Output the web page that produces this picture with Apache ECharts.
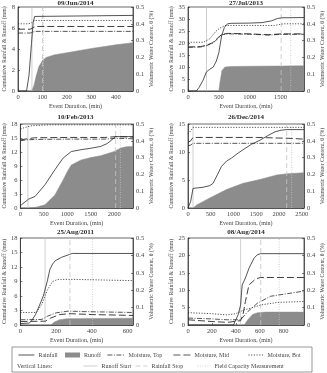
<!DOCTYPE html>
<html>
<head>
<meta charset="utf-8">
<script src="https://cdn.jsdelivr.net/npm/echarts@6/dist/echarts.min.js"></script>
<style>
  html, body { margin: 0; padding: 0; background: #fff; }
  #chart { width: 327px; height: 373px; }
</style>
</head>
<body>
<div id="chart"></div>
<script>
  // panel titles and axis ranges
  const titles = ['09/Jun/2014', '27/Jul/2013', '10/Feb/2013', '26/Dec/2014', '25/Aug/2011', '08/Aug/2014']
  const xMax = [470, 1880, 2400, 2550, 630, 970]
  const xStep = [100, 500, 500, 500, 200, 200]
  const rainMax = [8, 35, 18, 15, 18, 25]
  const rainStep = [2, 5, 3, 5, 3, 5]

  // 09/Jun/2014
  const rain1 = [[0, 0], [35, 0], [45, 1.5], [55, 4.5], [62, 6.5], [68, 7.1], [75, 7.15], [470, 7.2]]
  const runoff1 = [[0, 0], [55, 0], [65, 0.5], [75, 1.5], [85, 2.3], [100, 2.9], [115, 3.2], [150, 3.45], [200, 3.65], [300, 4.05], [400, 4.4], [470, 4.6]]
  const top1 = [[0, 0.345], [50, 0.345], [60, 0.35], [70, 0.355], [470, 0.355]]
  const mid1 = [[0, 0.368], [50, 0.368], [60, 0.375], [70, 0.384], [470, 0.384]]
  const bot1 = [[0, 0.40], [40, 0.40], [55, 0.405], [65, 0.42], [470, 0.42]]
  const vlines1 = [57, 100, 104]

  // 27/Jul/2013
  const rain2 = [[0, 0], [135, 0], [180, 1.5], [245, 4.5], [300, 8], [350, 9], [410, 10], [460, 12.5], [500, 16], [545, 23], [590, 26.5], [640, 28], [700, 28.2], [1000, 28.3], [1200, 28.5], [1350, 29.2], [1450, 30.2], [1520, 30.5], [1880, 30.6]]
  const runoff2 = [[0, 0], [500, 0], [520, 4], [550, 8.5], [600, 10], [700, 10.2], [1000, 10.3], [1500, 10.4], [1880, 10.5]]
  const top2 = [[0, 0.26], [200, 0.262], [300, 0.27], [400, 0.285], [480, 0.31], [550, 0.335], [650, 0.34], [1000, 0.338], [1300, 0.333], [1500, 0.337], [1880, 0.338]]
  const mid2 = [[0, 0.262], [200, 0.264], [300, 0.272], [400, 0.288], [480, 0.315], [550, 0.338], [650, 0.343], [1000, 0.34], [1300, 0.335], [1500, 0.34], [1880, 0.34]]
  const bot2 = [[0, 0.29], [250, 0.29], [350, 0.31], [450, 0.355], [520, 0.375], [600, 0.39], [1000, 0.39], [1400, 0.39], [1550, 0.4], [1880, 0.4]]
  const vlines2 = [300, 1510, 1665]

  // 10/Feb/2013
  const rain3 = [[0, 0.5], [175, 1.9], [315, 2.5], [525, 5], [735, 8.2], [910, 10.7], [1085, 12.1], [1295, 12.5], [1500, 12.8], [1710, 13.2], [1850, 13.8], [2030, 15.3], [2400, 15.3]]
  const runoff3 = [[0, 0], [175, 0], [350, 0.2], [525, 0.7], [735, 2.8], [910, 6], [1000, 7.8], [1085, 9.2], [1295, 10.3], [1500, 10.8], [1710, 11.2], [2000, 12.1], [2130, 12.8], [2250, 13.1], [2400, 13.2]]
  const top3 = [[0, 0.40], [100, 0.405], [300, 0.408], [1000, 0.41], [1800, 0.41], [2050, 0.415], [2400, 0.412]]
  const mid3 = [[0, 0.405], [100, 0.41], [300, 0.418], [1000, 0.42], [1800, 0.42], [2050, 0.425], [2400, 0.422]]
  const bot3 = [[0, 0.47], [100, 0.48], [250, 0.49], [600, 0.495], [2400, 0.495]]
  const vlines3 = [160, 2030, 2130]

  // 26/Dec/2014
  const rain4 = [[0, 0], [60, 1.2], [110, 3.5], [330, 3.7], [480, 4], [550, 4.4], [650, 6], [735, 7.4], [850, 8.4], [955, 8.9], [1100, 9.8], [1210, 10.4], [1400, 11.4], [1580, 12.1], [1750, 12.9], [1910, 13.6], [2050, 13.9], [2170, 14], [2550, 14]]
  const runoff4 = [[0, 0], [110, 0], [200, 0.6], [480, 1.8], [845, 3.3], [1210, 4.4], [1580, 5.1], [1950, 5.9], [2170, 6.1], [2550, 6.3]]
  const top4 = [[0, 0.37], [60, 0.375], [110, 0.385], [2550, 0.385]]
  const mid4 = [[0, 0.39], [60, 0.4], [110, 0.42], [1500, 0.42], [2200, 0.415], [2550, 0.41]]
  const bot4 = [[0, 0.44], [60, 0.46], [110, 0.48], [2550, 0.48]]
  const vlines4 = [110, 2170, 2280]

  // 25/Aug/2011
  const rain5 = [[0, 0.3], [50, 0.4], [65, 1], [85, 2.2], [100, 3.5], [115, 4.8], [130, 6.2], [150, 9], [165, 11.5], [180, 12.6], [195, 13.3], [230, 14], [275, 14.6], [290, 14.8], [630, 14.8]]
  const runoff5 = [[0, 0], [170, 0], [190, 0.6], [220, 1.1], [260, 1.3], [630, 1.4]]
  const top5 = [[0, 0.03], [120, 0.032], [150, 0.05], [200, 0.07], [270, 0.08], [350, 0.077], [630, 0.072]]
  const mid5 = [[0, 0.02], [140, 0.022], [170, 0.04], [220, 0.06], [280, 0.065], [400, 0.06], [630, 0.055]]
  const bot5 = [[0, 0.072], [90, 0.072], [120, 0.12], [150, 0.2], [180, 0.25], [210, 0.262], [300, 0.262], [630, 0.255]]
  const vlines5 = [138, 277, 404]

  // 08/Aug/2014
  const rain6 = [[0, 0], [380, 0], [400, 1.5], [420, 3], [440, 5.8], [453, 11.5], [480, 13.5], [510, 16.3], [552, 19.2], [580, 20.2], [608, 20.5], [970, 20.5]]
  const runoff6 = [[0, 0], [470, 0], [500, 1.5], [540, 3], [580, 3.5], [650, 3.7], [970, 3.7]]
  const top6 = [[0, 0.04], [200, 0.035], [330, 0.03], [440, 0.03], [500, 0.077], [580, 0.125], [690, 0.165], [830, 0.18], [970, 0.195]]
  const mid6 = [[0, 0.03], [200, 0.02], [330, 0.015], [440, 0.025], [460, 0.06], [480, 0.135], [510, 0.23], [566, 0.265], [608, 0.273], [970, 0.273]]
  const bot6 = [[0, 0.071], [200, 0.065], [327, 0.058], [400, 0.065], [470, 0.087], [540, 0.1], [608, 0.115], [750, 0.13], [970, 0.135]]
  const vlines6 = [440, 608, 763]

  const rains = [rain1, rain2, rain3, rain4, rain5, rain6]
  const runoffs = [runoff1, runoff2, runoff3, runoff4, runoff5, runoff6]
  const tops = [top1, top2, top3, top4, top5, top6]
  const mids = [mid1, mid2, mid3, mid4, mid5, mid6]
  const bots = [bot1, bot2, bot3, bot4, bot5, bot6]
  const vlines = [vlines1, vlines2, vlines3, vlines4, vlines5, vlines6]

  const font = 'Liberation Serif'
  const ink = '#2a2a2a'
  const grey = '#8c8c8c'
  const light = '#c4c4c4'
  const vNames = ['Runoff Start', 'Rainfall Stop', 'Field Capacity Measurement']
  const vTypes = ['solid', [5, 3], [1, 1.5]]

  // plot boxes, in pixels
  const colLeft = [18, 188]
  const colWidth = [115, 116]
  const rowTop = [7, 124, 238]
  const rowHeight = [84, 84, 87]
  const titleTop = [0, 114, 229]

  const grids = [], xAxes = [], yAxes = [], series = [], titleList = []
  for (let i = 0; i < 6; i++) {
    const c = i % 2, r = Math.floor(i / 2)
    grids.push({
      left: colLeft[c], top: rowTop[r], width: colWidth[c], height: rowHeight[r],
      show: true, borderColor: ink, borderWidth: 0.7, containLabel: false
    })
    titleList.push({
      text: titles[i], left: colLeft[c] + colWidth[c] / 2, top: titleTop[r], textAlign: 'center',
      padding: 0,
      textStyle: {fontFamily: font, fontSize: 7, fontWeight: 'bold', color: ink}
    })
    xAxes.push({
      gridIndex: i, type: 'value', min: 0, max: xMax[i], interval: xStep[i],
      name: 'Event Duration, (min)', nameLocation: 'middle', nameGap: 12,
      nameTextStyle: {fontFamily: font, fontSize: 6, color: '#444'},
      axisLine: {lineStyle: {color: ink, width: 0.7}},
      axisTick: {inside: true, length: 2, lineStyle: {color: ink, width: 0.6}},
      axisLabel: {fontFamily: font, fontSize: 6.5, color: '#444', margin: 3, showMaxLabel: false,
        formatter: function (v) { return String(v) }},
      splitLine: {show: false}
    })
    yAxes.push({
      gridIndex: i, type: 'value', min: 0, max: rainMax[i], interval: rainStep[i], position: 'left',
      name: 'Cumulative Rainfall & Runoff (mm)', nameLocation: 'middle', nameGap: i % 2 ? 11 : 9, nameRotate: 90,
      nameTextStyle: {fontFamily: font, fontSize: 5.8, color: '#444'},
      axisLine: {show: true, lineStyle: {color: ink, width: 0.7}},
      axisTick: {inside: true, length: 2, lineStyle: {color: ink, width: 0.6}},
      axisLabel: {fontFamily: font, fontSize: 6.5, color: '#444', margin: 3},
      splitLine: {show: false}
    })
    yAxes.push({
      gridIndex: i, type: 'value', min: 0, max: 0.5, interval: 0.1, position: 'right',
      name: 'Volumetric Water Content, θ (%)', nameLocation: 'middle', nameGap: 13, nameRotate: 90,
      nameTextStyle: {fontFamily: font, fontSize: 5.8, color: '#444'},
      axisLine: {show: true, lineStyle: {color: ink, width: 0.7}},
      axisTick: {inside: true, length: 2, lineStyle: {color: ink, width: 0.6}},
      axisLabel: {fontFamily: font, fontSize: 6.5, color: '#444', margin: 3},
      splitLine: {show: false}
    })

    const base = {type: 'line', xAxisIndex: i, symbol: 'none', silent: true, animation: false}
    series.push(Object.assign({}, base, {
      name: 'Runoff', yAxisIndex: 2 * i, data: runoffs[i], z: 1,
      itemStyle: {color: grey}, lineStyle: {color: grey, width: 0.5}, areaStyle: {color: grey, opacity: 1}
    }))
    vlines[i].forEach(function (x, k) {
      series.push(Object.assign({}, base, {
        name: vNames[k], yAxisIndex: 2 * i, data: [[x, 0], [x, rainMax[i]]], z: 2,
        itemStyle: {color: light}, lineStyle: {color: light, width: 0.8, type: vTypes[k]}
      }))
    })
    series.push(Object.assign({}, base, {
      name: 'Rainfall', yAxisIndex: 2 * i, data: rains[i], z: 3,
      itemStyle: {color: ink}, lineStyle: {color: ink, width: 0.8}
    }))
    series.push(Object.assign({}, base, {
      name: 'Moisture, Top', yAxisIndex: 2 * i + 1, data: tops[i], z: 3,
      itemStyle: {color: ink}, lineStyle: {color: ink, width: 0.8, type: [5, 1.5, 1, 1.5]}
    }))
    series.push(Object.assign({}, base, {
      name: 'Moisture, Mid', yAxisIndex: 2 * i + 1, data: mids[i], z: 3,
      itemStyle: {color: ink}, lineStyle: {color: ink, width: 0.9, type: [7, 3]}
    }))
    series.push(Object.assign({}, base, {
      name: 'Moisture, Bot', yAxisIndex: 2 * i + 1, data: bots[i], z: 3,
      itemStyle: {color: ink}, lineStyle: {color: ink, width: 0.8, type: [1.2, 1.5]}
    }))
  }

  // one legend per entry so each sits where the original has it
  function entry(name, x, y, w, icon) {
    const d = icon ? {name: name, icon: icon} : name
    return {
      data: [d], left: x, top: y, padding: 0, itemWidth: w, itemHeight: 5, itemGap: 3,
      selectedMode: false,
      itemStyle: icon ? {} : {opacity: 0},
      lineStyle: {width: 0.8},
      textStyle: {fontFamily: font, fontSize: 6, color: '#444', padding: [0, 0, 0, -1]}
    }
  }
  const legends = [
    entry('Rainfall', 18, 352, 16),
    entry('Runoff', 65, 352, 15, 'rect'),
    entry('Moisture, Top', 107, 352, 17),
    entry('Moisture, Mid', 173, 352, 17),
    entry('Moisture, Bot', 248, 352, 15),
    entry('Runoff Start', 83, 363, 14),
    entry('Rainfall Stop', 135, 363, 12),
    entry('Field Capacity Measurement', 197, 363, 13)
  ]

  const chart = echarts.init(document.getElementById('chart'), null, {renderer: 'canvas'})
  chart.setOption({
    animation: false,
    backgroundColor: '#fff',
    textStyle: {fontFamily: font},
    title: titleList,
    grid: grids,
    xAxis: xAxes,
    yAxis: yAxes,
    legend: legends,
    series: series,
    graphic: [
      {type: 'rect', shape: {x: 12, y: 347, width: 300, height: 25}, style: {fill: 'none', stroke: '#555', lineWidth: 0.6}},
      {type: 'text', x: 17, y: 363, style: {text: 'Vertical Lines:', font: '6px "Liberation Serif"', fill: '#444'}}
    ]
  })
</script>
</body>
</html>
